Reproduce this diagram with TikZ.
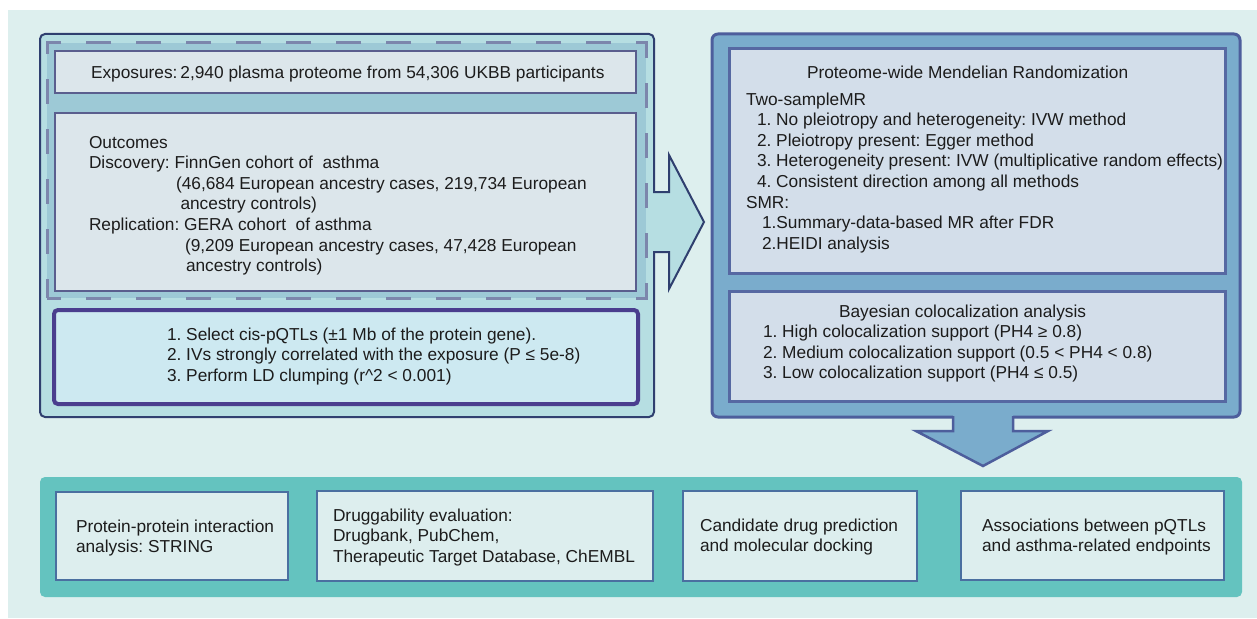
\documentclass[tikz,border=0pt]{standalone}
\usepackage{fontspec}
\setmainfont{Liberation Sans}
\definecolor{bgc}{HTML}{DDEFEE}
\definecolor{lboxfill}{HTML}{B6DEE2}
\definecolor{lboxdraw}{HTML}{2F3F6F}
\definecolor{dashfill}{HTML}{9DC9D6}
\definecolor{dashc}{HTML}{7C86AC}
\definecolor{inbfill}{HTML}{DCE6EB}
\definecolor{inbdraw}{HTML}{5A5E8E}
\definecolor{ivfill}{HTML}{CDE9F1}
\definecolor{ivdraw}{HTML}{4A3E8E}
\definecolor{rboxfill}{HTML}{7AACCC}
\definecolor{rboxdraw}{HTML}{4D5E9C}
\definecolor{rinfill}{HTML}{D3DEEA}
\definecolor{rindraw}{HTML}{5668A2}
\definecolor{bandc}{HTML}{64C3BF}
\definecolor{bboxfill}{HTML}{DDEEEE}
\definecolor{bboxdraw}{HTML}{4A6FA0}
\definecolor{textc}{HTML}{1C1C1C}
\begin{document}
\frenchspacing
\begin{tikzpicture}[x=1pt,y=-1pt,
  boxbase/.style={anchor=north west, rectangle, inner sep=0pt, outer sep=0pt},
  lbox/.style={boxbase, fill=lboxfill, draw=lboxdraw, line width=2pt, rounded corners=5pt},
  dashbox/.style={boxbase, fill=dashfill, draw=dashc, line width=3pt, dash pattern=on 25pt off 25pt, dash phase=11pt},
  inbox/.style={boxbase, fill=inbfill, draw=inbdraw, line width=2.5pt},
  ivbox/.style={boxbase, fill=ivfill, draw=ivdraw, line width=4pt, rounded corners=4pt},
  rbox/.style={boxbase, fill=rboxfill, draw=rboxdraw, line width=3pt, rounded corners=6pt},
  rinbox/.style={boxbase, fill=rinfill, draw=rindraw, line width=3pt},
  band/.style={boxbase, fill=bandc, rounded corners=5pt},
  bbox/.style={boxbase, fill=bboxfill, draw=bboxdraw, line width=2.5pt},
  txt/.style={anchor=base west, inner sep=0pt, outer sep=0pt, text=textc, font=\fontsize{17.3}{20.6}\selectfont},
  arrfillL/.style={fill=lboxfill},
  arrdrawL/.style={draw=lboxdraw, line width=2pt, line join=miter},
  arrfillR/.style={fill=rboxfill},
  arrdrawR/.style={draw=rboxdraw, line width=2.5pt, line join=miter}
]
\useasboundingbox (0,0) rectangle (1257,618);
\fill[bgc] (8,10) rectangle (1257,618);

% ---------- left panel ----------
\node[lbox, minimum width=614, minimum height=383] (left) at (40,34) {};
\node[dashbox, minimum width=599, minimum height=255] (dash) at (47,43) {};
\node[inbox, minimum width=581, minimum height=42] (expo) at (55,51) {};
\node[inbox, minimum width=581, minimum height=178] (outc) at (55,113) {};
\node[ivbox, minimum width=584, minimum height=94] (iv) at (54,310) {};

% right-pointing block arrow
\coordinate (ra) at (653,222);
\fill[arrfillL] ([xshift=-2pt,yshift=30pt]ra) -- ([xshift=16pt,yshift=30pt]ra) -- ([xshift=16pt,yshift=67pt]ra)
  -- ([xshift=51pt]ra) -- ([xshift=16pt,yshift=-67pt]ra) -- ([xshift=16pt,yshift=-30pt]ra) -- ([xshift=-2pt,yshift=-30pt]ra) -- cycle;
\draw[arrdrawL] ([yshift=30pt]ra) -- ([xshift=16pt,yshift=30pt]ra) -- ([xshift=16pt,yshift=67pt]ra)
  -- ([xshift=51pt]ra) -- ([xshift=16pt,yshift=-67pt]ra) -- ([xshift=16pt,yshift=-30pt]ra) -- ([yshift=-30pt]ra);

% ---------- right panel ----------
\node[rbox, minimum width=528, minimum height=383] (right) at (712,34) {};
\node[rinbox, minimum width=496, minimum height=224] (mr) at (729,49) {};
\node[rinbox, minimum width=496, minimum height=110] (coloc) at (729,291) {};

% down-pointing block arrow
\coordinate (da) at (983,416);
\fill[arrfillR] ([xshift=-30pt,yshift=3pt]da) -- ([xshift=-30pt,yshift=-15pt]da) -- ([xshift=-67pt,yshift=-15pt]da)
  -- ([yshift=-50pt]da) -- ([xshift=65pt,yshift=-15pt]da) -- ([xshift=30pt,yshift=-15pt]da) -- ([xshift=30pt,yshift=3pt]da) -- cycle;
\draw[arrdrawR] ([xshift=-30pt]da) -- ([xshift=-30pt,yshift=-15pt]da) -- ([xshift=-67pt,yshift=-15pt]da)
  -- ([yshift=-50pt]da) -- ([xshift=65pt,yshift=-15pt]da) -- ([xshift=30pt,yshift=-15pt]da) -- ([xshift=30pt]da);

% ---------- bottom band ----------
\node[band, minimum width=1202, minimum height=120] (bandn) at (40,477) {};
\node[bbox, minimum width=232, minimum height=88] (b1) at (56,492) {};
\node[bbox, minimum width=336, minimum height=90] (b2) at (317,491) {};
\node[bbox, minimum width=234, minimum height=90] (b3) at (683,491) {};
\node[bbox, minimum width=263, minimum height=89] (b4) at (961,491) {};

% ---------- texts: left ----------
\node[txt] (t1) at (91,78) {Exposures:\,2,940 plasma proteome from 54,306 UKBB participants};
\node[txt] (t2) at (89,148) {Outcomes};
\node[txt] (t3) at (89,168.6) {Discovery: FinnGen cohort of\ \ asthma};
\node[txt] (t4) at (176,189.2) {(46,684 European ancestry cases, 219,734 European};
\node[txt] (t5) at (180.5,209.8) {ancestry controls)};
\node[txt] (t6) at (89,230.4) {Replication: GERA cohort\ \ of asthma};
\node[txt] (t7) at (185,251) {(9,209 European ancestry cases, 47,428 European};
\node[txt] (t8) at (186,271.6) {ancestry controls)};
\node[txt] (t9) at (167,340) {1. Select cis-pQTLs (±1 Mb of the protein gene).};
\node[txt] (t10) at (167,360.6) {2. IVs strongly correlated with the exposure (P ≤ 5e-8)};
\node[txt] (t11) at (167,381.2) {3. Perform LD clumping (r\textasciicircum2 < 0.001)};

% ---------- texts: right ----------
\node[txt] (r1) at (807,78) {Proteome-wide Mendelian Randomization};
\node[txt] (r2) at (746,105) {Two-sampleMR};
\node[txt] (r3) at (757,125.6) {1. No pleiotropy and heterogeneity: IVW method};
\node[txt] (r4) at (757,146.2) {2. Pleiotropy present: Egger method};
\node[txt] (r5) at (757,166.8) {3. Heterogeneity present: IVW (multiplicative random effects)};
\node[txt] (r6) at (757,187.4) {4. Consistent direction among all methods};
\node[txt] (r7) at (746,208) {SMR:};
\node[txt] (r8) at (762,228.6) {1.Summary-data-based MR after FDR};
\node[txt] (r9) at (762,249.2) {2.HEIDI analysis};
\node[txt] (c1) at (839,317) {Bayesian colocalization analysis};
\node[txt] (c2) at (763,337.6) {1. High colocalization support (PH4 ≥ 0.8)};
\node[txt] (c3) at (763,358.2) {2. Medium colocalization support (0.5 < PH4 < 0.8)};
\node[txt] (c4) at (763,378.8) {3. Low colocalization support (PH4 ≤ 0.5)};

% ---------- texts: bottom ----------
\node[txt] (bt1) at (76,532) {Protein-protein interaction};
\node[txt] (bt2) at (76,552.6) {analysis: STRING};
\node[txt] (bt3) at (333,521) {Druggability evaluation:};
\node[txt] (bt4) at (333,541.6) {Drugbank, PubChem,};
\node[txt] (bt5) at (333,562.2) {Therapeutic Target Database, ChEMBL};
\node[txt] (bt6) at (700,531) {Candidate drug prediction};
\node[txt] (bt7) at (700,551.6) {and molecular docking};
\node[txt] (bt8) at (982,531) {Associations between pQTLs};
\node[txt] (bt9) at (982,551.6) {and asthma-related endpoints};
\end{tikzpicture}
\end{document}
